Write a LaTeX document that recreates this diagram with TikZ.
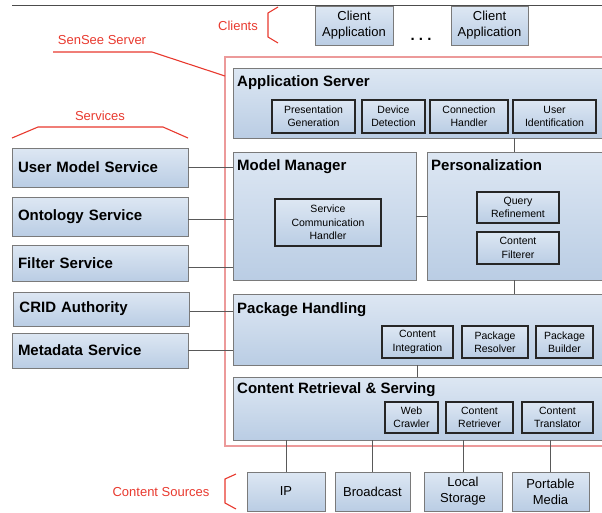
\documentclass[tikz,border=0pt]{standalone}
\usepackage{fontspec}
\setmainfont{Liberation Sans}
\usetikzlibrary{calc}
\definecolor{boxtop}{HTML}{DDE7F3}
\definecolor{boxbot}{HTML}{BACDE4}
\definecolor{framegray}{HTML}{7A7A7A}
\definecolor{sensred}{HTML}{E8392E}
\definecolor{framered}{HTML}{EC9A9A}

\begin{document}
\begin{tikzpicture}[x=1pt,y=-1pt,
    layer/.style={draw=framegray,line width=0.9pt,top color=boxtop,bottom color=boxbot,inner sep=0pt},
    part/.style={draw=black!85,line width=1.1pt,top color=boxtop,bottom color=boxbot,inner sep=0pt,
        align=center,font=\fontsize{10.5}{13.3}\selectfont},
    svc/.style={layer,minimum width=176pt,text width=164pt,inner xsep=6pt,align=left,
        font=\fontsize{15}{18}\selectfont\bfseries},
    src/.style={layer,align=center,font=\fontsize{13}{16}\selectfont},
    ttl/.style={anchor=base west,inner sep=0pt,font=\fontsize{15}{18}\selectfont\bfseries},
    redlbl/.style={text=sensred,inner sep=0pt,font=\fontsize{13}{16}\selectfont},
    redline/.style={draw=sensred,line width=1.1pt},
    link/.style={draw=black!65,line width=0.8pt}]
    \clip (0,0) rectangle (602,512);
    \draw[black!70,line width=1pt] (12,5) -- (602,5);
    % clients
    \node[redlbl] (clients) at (238,26) {Clients};
    \draw[redline] (278,7) -- (268,13) -- (268,37) -- (278,43);
    \node[src,minimum width=78pt,minimum height=39pt] (client1) at (354,25.5) {Client\\Application};
    \node[src,minimum width=77pt,minimum height=39pt] (client2) at (489.5,25.5) {Client\\Application};
    \node[inner sep=0pt,font=\fontsize{15}{18}\selectfont\bfseries] (dots) at (421,39) {.\ .\ .};
    % sensee server frame
    \draw[framered,line width=1.4pt] (225,57) rectangle (612,446);
    \node[redlbl] (sensee) at (102,40) {SenSee Server};
    \draw[redline] (53,52) -- (152,52) -- (225,76);
    % services
    \node[redlbl] (services) at (100,116) {Services};
    \draw[redline] (12,138) -- (38,127) -- (163,127) -- (188,138);
    \node[svc,minimum height=39pt] (usermodel) at (100,167.5) {User Model Service};
    \node[svc,minimum height=39pt] (ontology) at (100,216.5) {Ontology Service};
    \node[svc,minimum height=36pt] (filter) at (100,263) {Filter Service};
    \node[svc,minimum height=34pt] (crid) at (101.5,309) {CRID Authority};
    \node[svc,minimum height=35pt] (metadata) at (100,350.5) {Metadata Service};
    % application server
    \node[layer,minimum width=377pt,minimum height=70pt] (appsrv) at (421.5,103) {};
    \node[ttl] (appsrv-t) at (237,86.5) {Application Server};
    \node[part,minimum width=83pt,minimum height=33pt] (presgen) at (313.5,116.5) {Presentation\\Generation};
    \node[part,minimum width=63pt,minimum height=33pt] (devdet) at (393.5,116.5) {Device\\Detection};
    \node[part,minimum width=78pt,minimum height=33pt] (connhand) at (469,116.5) {Connection\\Handler};
    \node[part,minimum width=83pt,minimum height=33pt] (userid) at (554.5,116.5) {User\\Identification};
    % model manager and personalization
    \node[layer,minimum width=183pt,minimum height=128pt] (modelmgr) at (324.5,216) {};
    \node[ttl] (modelmgr-t) at (237,170.5) {Model Manager};
    \node[part,minimum width=106pt,minimum height=47pt] (servcomm) at (328,222.5) {Service\\Communication\\Handler};
    \node[layer,minimum width=183pt,minimum height=128pt] (pers) at (518.5,216) {};
    \node[ttl] (pers-t) at (431,170.5) {Personalization};
    \node[part,minimum width=82pt,minimum height=31pt] (qref) at (518,207.5) {Query\\Refinement};
    \node[part,minimum width=82pt,minimum height=32pt] (cfilt) at (518,248) {Content\\Filterer};
    % package handling
    \node[layer,minimum width=377pt,minimum height=71pt] (pkg) at (421.5,329.5) {};
    \node[ttl] (pkg-t) at (237,313.5) {Package Handling};
    \node[part,minimum width=71pt,minimum height=32pt] (contint) at (417.5,342) {Content\\Integration};
    \node[part,minimum width=66pt,minimum height=32pt] (pkgres) at (495,342) {Package\\Resolver};
    \node[part,minimum width=57pt,minimum height=32pt] (pkgbld) at (564.5,342) {Package\\Builder};
    % content retrieval and serving
    \node[layer,minimum width=377pt,minimum height=63pt] (crs) at (421.5,408.5) {};
    \node[ttl] (crs-t) at (237,393.5) {Content Retrieval \& Serving};
    \node[part,minimum width=53pt,minimum height=31pt] (webcr) at (411.5,417.5) {Web\\Crawler};
    \node[part,minimum width=67pt,minimum height=31pt] (contret) at (479.5,417.5) {Content\\Retriever};
    \node[part,minimum width=71pt,minimum height=31pt] (conttr) at (557.5,417.5) {Content\\Translator};
    % content sources
    \node[redlbl] (sources) at (161,492) {Content Sources};
    \draw[redline] (236,474) -- (225,479) -- (225,503) -- (236,509);
    \node[src,minimum width=78pt,minimum height=39pt] (ip) at (286,491.5) {IP};
    \node[src,minimum width=75pt,minimum height=39pt] (broadcast) at (372.5,491.5) {Broadcast};
    \node[src,minimum width=78pt,minimum height=39pt] (localst) at (463,491.5) {Local\\Storage};
    \node[src,minimum width=77pt,minimum height=39pt] (portable) at (550.5,491.5) {Portable\\Media};
    % connectors
    \coordinate (tap) at (514,0);
    \draw[link] (tap |- appsrv.south) -- (tap |- pers.north);
    \draw[link] (tap |- pers.south) -- (tap |- pkg.north);
    \draw[link] (contint.south |- pkg.south) -- (contint.south |- crs.north);
    \draw[link] (modelmgr.east) -- (pers.west);
    \draw[link] (usermodel.east) -- (usermodel.east -| modelmgr.west);
    \draw[link] ([yshift=-2.5pt]ontology.east) -- ([yshift=-2.5pt]ontology.east -| modelmgr.west);
    \draw[link] ([yshift=-4pt]filter.east) -- ([yshift=-4pt]filter.east -| modelmgr.west);
    \draw[link] ([yshift=-2pt]crid.east) -- ([yshift=-2pt]crid.east -| pkg.west);
    \draw[link] (metadata.east) -- (metadata.east -| pkg.west);
    \draw[link] (ip.north) -- (ip.north |- crs.south);
    \draw[link] (broadcast.north) -- (broadcast.north |- crs.south);
    \draw[link] (localst.north) -- (localst.north |- crs.south);
    \draw[link] (portable.north) -- (portable.north |- crs.south);
\end{tikzpicture}
\end{document}
